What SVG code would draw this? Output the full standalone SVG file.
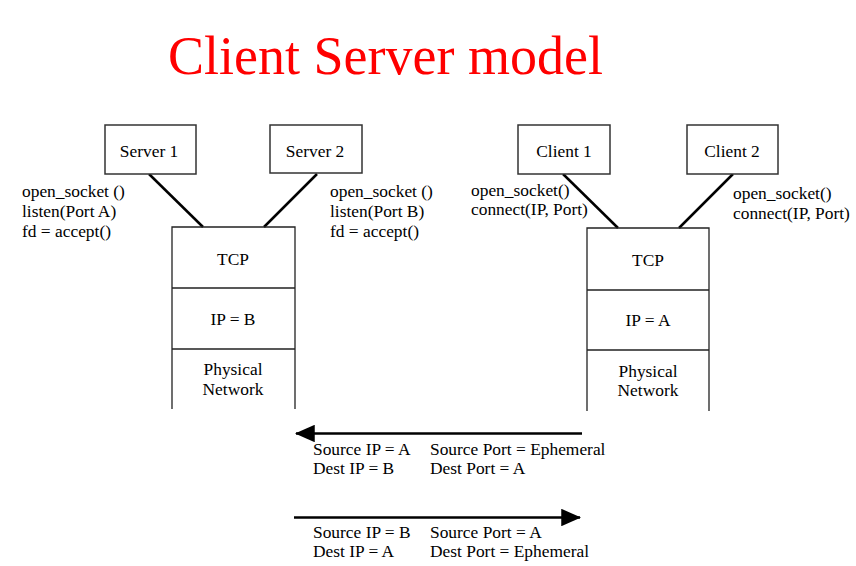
<svg xmlns="http://www.w3.org/2000/svg" width="856" height="566" viewBox="0 0 856 566">
<style>
text{font-family:"Liberation Serif","Times New Roman",serif;font-size:17.4px;fill:#000}
.c{text-anchor:middle}
.box{fill:#fff;stroke:#333;stroke-width:1.5}
.ln{stroke:#000;stroke-width:2.5;fill:none}
.st{stroke:#222;stroke-width:1.3;fill:none}
.title{font-size:54px;fill:#ff0000}
</style>
<defs>
<marker id="ah" markerWidth="8" markerHeight="7" refX="7.5" refY="3.5" orient="auto" markerUnits="strokeWidth">
<path d="M0,0 L8,3.5 L0,7 Z" fill="#000"/>
</marker>
</defs>
<rect width="856" height="566" fill="#fff"/>
<text class="title" x="168" y="74">Client Server model</text>

<g id="connectors">
<line class="ln" x1="149" y1="174" x2="203" y2="227"/>
<line class="ln" x1="317" y1="174" x2="264" y2="227"/>
<line class="ln" x1="563" y1="174" x2="618" y2="228"/>
<line class="ln" x1="733" y1="174" x2="679" y2="228"/>
<line class="ln" x1="582" y1="433.5" x2="296" y2="433.5" marker-end="url(#ah)"/>
<line class="ln" x1="294" y1="517.5" x2="580" y2="517.5" marker-end="url(#ah)"/>
</g>

<g id="server1">
<rect class="box" x="105" y="125" width="91" height="49"/>
<text class="c" x="149" y="157">Server 1</text>
</g>
<g id="server2">
<rect class="box" x="270" y="125" width="92" height="48"/>
<text class="c" x="315" y="157">Server 2</text>
</g>
<g id="client1">
<rect class="box" x="518" y="125" width="92" height="49"/>
<text class="c" x="564" y="157">Client 1</text>
</g>
<g id="client2">
<rect class="box" x="687" y="125" width="91" height="49"/>
<text class="c" x="732" y="157">Client 2</text>
</g>

<g id="server-stack">
<path class="st" d="M172,409 V227 H295 V409 M172,288 H295 M172,349 H295"/>
<text class="c" x="233" y="265">TCP</text>
<text class="c" x="233" y="325">IP = B</text>
<text class="c" x="233" y="375">Physical</text>
<text class="c" x="233" y="394.5">Network</text>
</g>
<g id="client-stack">
<path class="st" d="M587,411 V228 H709 V411 M587,290 H709 M587,350 H709"/>
<text class="c" x="648" y="266">TCP</text>
<text class="c" x="648" y="326">IP = A</text>
<text class="c" x="648" y="376.5">Physical</text>
<text class="c" x="648" y="396">Network</text>
</g>

<g id="server1-calls">
<text x="22" y="197">open_socket ()</text>
<text x="22" y="217">listen(Port A)</text>
<text x="22" y="237">fd = accept()</text>
</g>
<g id="server2-calls">
<text x="330" y="197">open_socket ()</text>
<text x="330" y="217">listen(Port B)</text>
<text x="330" y="237">fd = accept()</text>
</g>
<g id="client1-calls">
<text x="471" y="196">open_socket()</text>
<text x="471" y="215">connect(IP, Port)</text>
</g>
<g id="client2-calls">
<text x="733" y="199">open_socket()</text>
<text x="733" y="219">connect(IP, Port)</text>
</g>

<g id="packet1">
<text x="313" y="455">Source IP = A</text>
<text x="430" y="455">Source Port = Ephemeral</text>
<text x="313" y="474">Dest IP = B</text>
<text x="430" y="474">Dest Port = A</text>
</g>
<g id="packet2">
<text x="313" y="538">Source IP = B</text>
<text x="430" y="538">Source Port = A</text>
<text x="313" y="557">Dest IP = A</text>
<text x="430" y="557">Dest Port = Ephemeral</text>
</g>
</svg>
